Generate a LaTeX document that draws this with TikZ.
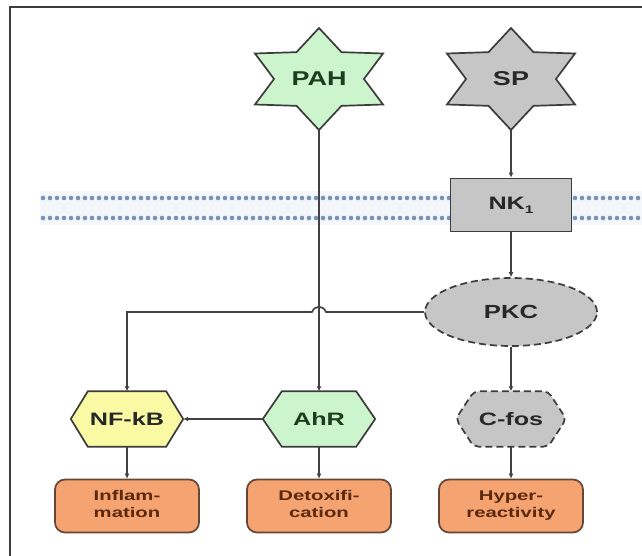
\documentclass[tikz,border=0pt]{standalone}
\usepackage{graphicx}
\usepackage{fontspec}
\setmainfont{Liberation Sans}
\usetikzlibrary{shapes.geometric,arrows.meta}
\pgfdeclarelayer{back}
\pgfdeclarelayer{bg}
\pgfsetlayers{back,bg,main}
\definecolor{edgec}{RGB}{60,60,60}
\definecolor{linec}{RGB}{65,65,65}
\definecolor{greenf}{RGB}{205,245,205}
\definecolor{grayf}{RGB}{198,198,198}
\definecolor{yellowf}{RGB}{250,250,165}
\definecolor{orangef}{RGB}{245,163,112}
\definecolor{brownd}{RGB}{100,70,55}
\definecolor{brownt}{RGB}{90,40,15}
\definecolor{greent}{RGB}{30,60,30}
\definecolor{darkt}{RGB}{40,40,40}
\definecolor{memdot}{RGB}{120,145,185}
\definecolor{memband}{RGB}{243,247,252}
\newcommand\hstretch[2]{\scalebox{#1}[1]{#2}}
\newcommand\outfnt{\fontsize{14}{17}\selectfont\bfseries}
\newcommand\hexdraw[3]{\begin{pgfonlayer}{bg}\draw[#3] (#1.west) -- ([xshift=#2]#1.north west) -- ([xshift=-#2]#1.north east) -- (#1.east) -- ([xshift=-#2]#1.south east) -- ([xshift=#2]#1.south west) -- cycle;\end{pgfonlayer}}
\newcommand\stardraw[2]{\begin{pgfonlayer}{bg}\draw[#2, shift={(#1.center)}, xscale=1.45] (90:51pt) -- (60:31pt) -- (30:51pt) -- (0:31pt) -- (-30:51pt) -- (-60:31pt) -- (-90:51pt) -- (-120:31pt) -- (-150:51pt) -- (180:31pt) -- (150:51pt) -- (120:31pt) -- cycle;\end{pgfonlayer}}
\begin{document}
\begin{tikzpicture}[x=1pt,y=-1pt,
  conn/.style={draw=linec, line width=1.6pt, -{Latex[length=5pt,width=5pt]}},
  shapeline/.style={draw=edgec, line width=1.7pt, line join=miter},
  holder/.style={inner sep=0pt, text=darkt, font=\fontsize{18}{22}\selectfont\bfseries},
  outbox/.style={draw=brownd, line width=1.7pt, fill=orangef, rounded corners=10pt, minimum width=144pt, minimum height=53pt, inner sep=0pt, text=brownt, align=center}
]
\useasboundingbox (0,0) rectangle (642,556);
\begin{pgfonlayer}{back}
\fill[white] (0,0) rectangle (642,556);
\end{pgfonlayer}
\draw[edgec, line width=1.6pt] (10,556) -- (10,7) -- (642,7);

% membrane
\begin{pgfonlayer}{bg}
\fill[memband] (40,191) rectangle (642,225);
\foreach \x in {43,50,...,640} {
  \fill[memdot] (\x,198) circle (2.3pt);
  \fill[memdot] (\x,218) circle (2.3pt);
}
\end{pgfonlayer}

% stars
\node[holder, minimum width=128pt, minimum height=102pt, text=greent, font=\fontsize{20}{24}\selectfont\bfseries] (pah) at (319,79) {\hstretch{1.35}{PAH}};
\stardraw{pah}{shapeline, fill=greenf}
\node[holder, minimum width=128pt, minimum height=102pt, font=\fontsize{20}{24}\selectfont\bfseries] (sp) at (511,79) {\hstretch{1.35}{SP}};
\stardraw{sp}{shapeline, fill=grayf}

% NK1 receptor
\node[holder, shapeline, fill=grayf, minimum width=121pt, minimum height=53pt] (nk) at (511,205) {\hstretch{1.4}{NK\raisebox{-4pt}{\fontsize{11}{12}\selectfont 1}}};

% PKC
\node[holder, ellipse, shapeline, dashed, dash pattern=on 7pt off 4pt, fill=grayf, minimum width=172pt, minimum height=68pt, font=\fontsize{19}{22}\selectfont\bfseries] (pkc) at (511,312) {\hstretch{1.35}{PKC}};

% hexagons
\node[holder, minimum width=112pt, minimum height=55pt] (nfkb) at (127,419) {\hstretch{1.4}{NF-kB}};
\hexdraw{nfkb}{17pt}{shapeline, fill=yellowf}
\node[holder, minimum width=112pt, minimum height=55pt, text=greent] (ahr) at (319,419) {\hstretch{1.4}{AhR}};
\hexdraw{ahr}{19pt}{shapeline, fill=greenf}
\node[holder, minimum width=110pt, minimum height=55pt] (cfos) at (511,419) {\hstretch{1.4}{C-fos}};
\hexdraw{cfos}{18pt}{shapeline, fill=grayf, dashed, dash pattern=on 7pt off 4pt, rounded corners=5pt}

% outcome boxes
\node[outbox] (inf) at (127,506) {\hstretch{1.45}{\outfnt\begin{tabular}{@{}c@{}}Inflam-\\mation\end{tabular}}};
\node[outbox] (detox) at (319,506) {\hstretch{1.45}{\outfnt\begin{tabular}{@{}c@{}}Detoxifi-\\cation\end{tabular}}};
\node[outbox] (hyper) at (511,506) {\hstretch{1.45}{\outfnt\begin{tabular}{@{}c@{}}Hyper-\\reactivity\end{tabular}}};

% connectors
\draw[conn] (pah.south) -- (ahr.north);
\draw[conn] (sp.south) -- (nk.north);
\draw[conn] (nk.south) -- (pkc.north);
\draw[conn] (pkc.south) -- (cfos.north);
\draw[conn] (ahr.west) -- (nfkb.east);
\draw[conn] (nfkb.south) -- (inf.north);
\draw[conn] (ahr.south) -- (detox.north);
\draw[conn] (cfos.south) -- (hyper.north);
\coordinate (hopR) at (326,312);
\coordinate (hopL) at (312,312);
\draw[conn] (pkc.west) -- (hopR) .. controls (323,305) and (315,305) .. (hopL) -| (nfkb.north);
\end{tikzpicture}
\end{document}
